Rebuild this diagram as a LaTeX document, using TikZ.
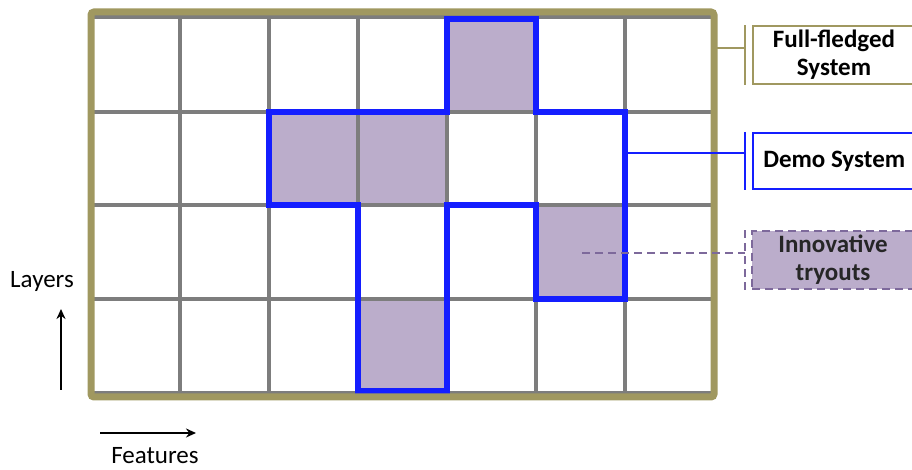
\documentclass[tikz,border=0pt]{standalone}
\usepackage{fontspec}
\setmainfont{Carlito}
\usetikzlibrary{arrows.meta,positioning,calc}

\definecolor{frameolive}{RGB}{160,152,96}
\definecolor{gridgray}{RGB}{125,125,125}
\definecolor{demoblue}{RGB}{20,30,255}
\definecolor{tryfill}{RGB}{187,173,203}
\definecolor{trydash}{RGB}{125,105,155}

\begin{document}
\begin{tikzpicture}[
  x=0.5pt, y=-0.5pt,
  font=\fontsize{12.5}{14}\selectfont,
  cellline/.style={draw=gridgray, line width=1.6pt},
  tryout/.style={fill=tryfill},
  demoline/.style={draw=demoblue, line width=3pt},
  outer/.style={draw=frameolive, line width=3.5pt, rounded corners=1.5pt},
  tag/.style={align=center, font=\fontsize{12.5}{14}\selectfont\bfseries,
    minimum width=81pt, minimum height=28pt, inner sep=2pt, anchor=west},
  fullbox/.style={tag, draw=frameolive, line width=1pt, fill=white},
  demobox/.style={tag, draw=demoblue, line width=1.2pt, fill=white},
  trybox/.style={tag, draw=trydash, line width=1pt, dash pattern=on 4pt off 2.5pt,
    fill=tryfill, text=black!85},
  fullline/.style={draw=frameolive, line width=1pt},
  demolink/.style={draw=demoblue, line width=1pt},
  trylink/.style={draw=trydash, line width=1pt, dash pattern=on 4pt off 2.5pt},
  axis/.style={-{Stealth[length=5pt,width=4.5pt]}, line width=1.2pt},
  axlabel/.style={font=\fontsize{12.5}{14}\selectfont}
]
\useasboundingbox (0,0) rectangle (912,470);

% ── cells: shaded tryouts, then the grid lines ─────────────────────────
\foreach \xa/\ya/\yb in {447/15/112, 269/112/205, 358/112/205, 536/205/299, 358/299/396}
  \fill[tryout] (\xa,\ya) rectangle ({\xa+89},\yb);
\foreach \x in {180,269,358,447,536,625}
  \draw[cellline] (\x,15) -- (\x,396);
\foreach \y in {17,112,205,299,393}
  \draw[cellline] (91,\y) -- (714,\y);

% ── demo system outline ────────────────────────────────────────────────
\draw[demoline] (447,19) -- (536,19) -- (536,112) -- (625,112) -- (625,299)
  -- (536,299) -- (536,205) -- (447,205) -- (447,391) -- (358,391)
  -- (358,205) -- (269,205) -- (269,112) -- (447,112) -- cycle;

% ── full-fledged frame ─────────────────────────────────────────────────
\draw[outer] (91,12) rectangle (714,397);

% ── right-hand labels ──────────────────────────────────────────────────
\node[fullbox] (full) at (752,55) {Full-fledged\\System};
\node[demobox] (demo) at (752,161) {Demo System};
\node[trybox] (try) at (751,260) {Innovative\\tryouts};

\coordinate (fullfrom) at (714,48);
\coordinate (demofrom) at (625,153);
\coordinate (tryfrom) at (582,253);
\coordinate (fulltap) at ([xshift=-3.5pt]full.west |- fullfrom);
\coordinate (demotap) at ([xshift=-3.5pt]demo.west |- demofrom);
\coordinate (trytap) at ([xshift=-3pt]try.west |- tryfrom);

\draw[fullline] ([xshift=-3.5pt]full.north west) -- ([xshift=-3.5pt]full.south west);
\draw[fullline] (fullfrom) -- (fulltap);
\draw[demolink] ([xshift=-3.5pt]demo.north west) -- ([xshift=-3.5pt]demo.south west);
\draw[demolink] (demofrom) -- (demotap);
\draw[trylink] ([xshift=-3pt]try.north west) -- ([xshift=-3pt]try.south west);
\draw[trylink] (tryfrom) -- (trytap);

% ── axes ───────────────────────────────────────────────────────────────
\node[axlabel] (layers) at (42,281) {Layers};
\coordinate (upfoot) at (61,390);
\coordinate (uphead) at (61,309);
\draw[axis] (upfoot) -- (uphead);
\coordinate (rtfoot) at (100,433);
\coordinate (rthead) at (196,433);
\draw[axis] (rtfoot) -- (rthead);
\node[axlabel] (features) at (155,456) {Features};

\end{tikzpicture}
\end{document}
